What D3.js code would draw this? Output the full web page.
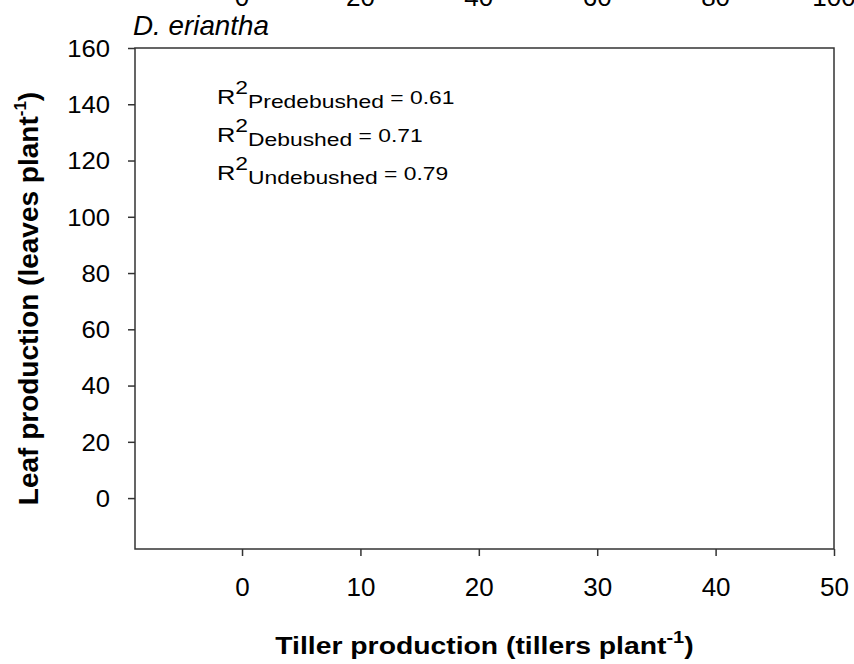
<!DOCTYPE html>
<html>
<head>
<meta charset="utf-8">
<script src="https://cdn.jsdelivr.net/npm/d3@7"></script>
<style>
  html, body { margin: 0; padding: 0; background: #fff; }
  svg { display: block; }
  text { font-family: "Liberation Sans", Arial, Helvetica, sans-serif; fill: #000; }
</style>
</head>
<body>
<script>
// ---- Data ----
const xTicks = [0, 10, 20, 30, 40, 50];
const yTicks = [0, 20, 40, 60, 80, 100, 120, 140, 160];
const topPanelTickLabels = ["0", "20", "40", "60", "80", "100"]; // cut-off axis of the panel above
const panelTitle = "D. eriantha";
const r2Groups = ["Predebushed", "Debushed", "Undebushed"];
const r2Values = [0.61, 0.71, 0.79];
const xDomain = [-9.04, 50];
const yDomain = [-18.1, 160];

// ---- Layout ----
const W = 854, H = 664;
const L = 135, R = 834, T = 48, B = 549;
const stroke = "#333";

const svg = d3.select("body").append("svg").attr("width", W).attr("height", H);

const x = d3.scaleLinear().domain(xDomain).range([L, R]);
const y = d3.scaleLinear().domain(yDomain).range([B, T]);

// frame
svg.append("rect")
  .attr("x", L).attr("y", T).attr("width", R - L).attr("height", B - T)
  .attr("fill", "none").attr("stroke", stroke).attr("stroke-width", 1.5);

// y axis
const sxY = 1.07;
const gy = svg.append("g").attr("transform", `translate(${L},0)`)
  .call(d3.axisLeft(y).tickValues(yTicks).tickSize(7).tickSizeOuter(0));
gy.select(".domain").remove();
gy.selectAll(".tick line").attr("stroke", stroke).attr("stroke-width", 1.5);
gy.selectAll(".tick text")
  .attr("font-size", 24).attr("font-family", null)
  .attr("text-anchor", "end")
  .attr("x", -25 / sxY).attr("dy", "0.35em")
  .attr("transform", `scale(${sxY},1)`);

// x axis
const gx = svg.append("g").attr("transform", `translate(0,${B})`)
  .call(d3.axisBottom(x).tickValues(xTicks).tickSize(7).tickSizeOuter(0));
gx.select(".domain").remove();
gx.selectAll(".tick line").attr("stroke", stroke).attr("stroke-width", 1.5);
gx.selectAll(".tick text")
  .attr("font-size", 26).attr("font-family", null)
  .attr("y", 47).attr("dy", 0);

// cut-off tick labels of the panel above
svg.append("g").selectAll("text").data(topPanelTickLabels).join("text")
  .attr("x", (d, i) => x(xTicks[i]))
  .attr("y", 6)
  .attr("text-anchor", "middle")
  .attr("font-size", 26)
  .text(d => d);

// panel title
svg.append("text")
  .attr("transform", `translate(133,35) scale(1.03,1)`)
  .attr("font-size", 27).attr("font-style", "italic")
  .text(panelTitle);

// R² annotations
const sxR = 1.27;
r2Groups.forEach((g, i) => {
  const t = svg.append("text")
    .attr("transform", `translate(217,${104 + i * 38}) scale(${sxR},1)`)
    .attr("font-size", 20);
  t.append("tspan").text("R");
  t.append("tspan").attr("font-size", 18).attr("dy", -10).text("2");
  t.append("tspan").attr("font-size", 18).attr("dy", 14).text(g);
  t.append("tspan").attr("font-size", 18).attr("dy", -4).text(" = " + d3.format(".2f")(r2Values[i]));
});

// x axis title
const xt = svg.append("text")
  .attr("transform", `translate(${(L + R) / 2},654) scale(1.18,1)`)
  .attr("text-anchor", "middle").attr("font-size", 24).attr("font-weight", "bold");
xt.append("tspan").text("Tiller production (tillers plant");
xt.append("tspan").attr("font-size", 17).attr("dy", -11).text("-1");
xt.append("tspan").attr("dy", 11).text(")");

// y axis title
const yt = svg.append("text")
  .attr("transform", `translate(38,${(T + B) / 2}) rotate(-90)`)
  .attr("text-anchor", "middle").attr("font-size", 28).attr("font-weight", "bold");
yt.append("tspan").text("Leaf production (leaves plant");
yt.append("tspan").attr("font-size", 17).attr("dy", -12).text("-1");
yt.append("tspan").attr("dy", 12).text(")");
</script>
</body>
</html>
